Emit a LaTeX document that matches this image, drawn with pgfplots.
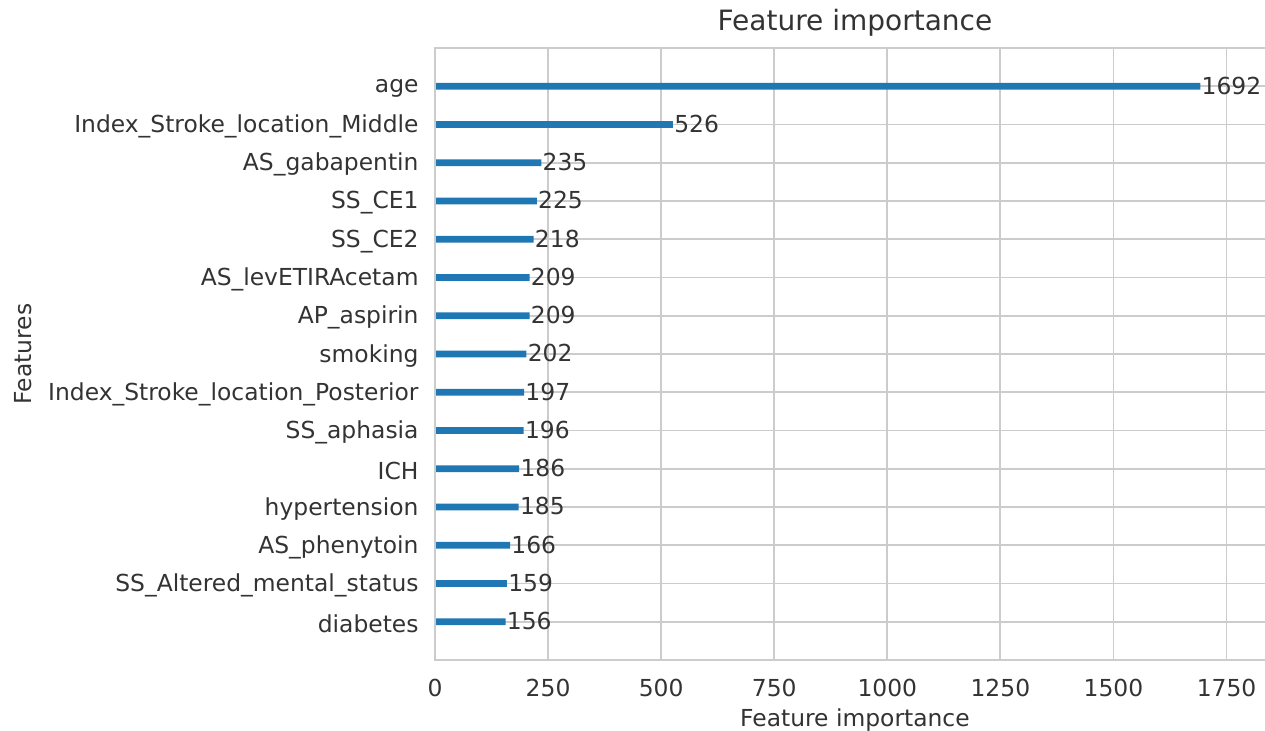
\documentclass[border=0pt]{standalone}
\usepackage{pgfplots}
\pgfplotsset{compat=1.18}
\usepackage{fontspec}
\setmainfont{DejaVu Sans}
\definecolor{barblue}{HTML}{1F77B4}
\definecolor{gridgray}{HTML}{CCCCCC}
\definecolor{txt}{HTML}{333333}
\newcommand\lbl{\fontsize{11.7}{13.5}\selectfont}
\begin{document}
\begin{tikzpicture}
\begin{axis}[
    at={(0,0)}, anchor=south west,
    scale only axis,
    width=415pt, height=306pt,
    clip=false,
    xbar, bar width=0.175,
    xmin=0, xmax=1835,
    ymin=-1, ymax=15,
    xtick={0,250,...,1750},
    ytick={0,...,14},
    yticklabels={diabetes,SS\_Altered\_mental\_status,AS\_phenytoin,hypertension,ICH,SS\_aphasia,Index\_Stroke\_location\_Posterior,smoking,AP\_aspirin,AS\_levETIRAcetam,SS\_CE2,SS\_CE1,AS\_gabapentin,Index\_Stroke\_location\_Middle,age},
    major tick length=0pt,
    grid=major,
    major grid style={color=gridgray, line width=0.9pt},
    axis line style={draw=none},
    /pgf/number format/assume math mode=true,
    /pgf/number format/1000 sep={},
    tick label style={font=\lbl, color=txt},
    yticklabel style={xshift=-4.7pt, yshift=-1pt},
    xticklabel style={yshift=-6pt},
    nodes near coords,
    every node near coord/.append style={font=\lbl, color=txt, anchor=west, inner xsep=0.5pt, yshift=0.3pt},
    title={Feature importance},
    title style={at={(axis description cs:0.506,1)}, anchor=base, yshift=3pt, font=\fontsize{14}{16}\selectfont, color=txt},
    xlabel={Feature importance},
    xlabel style={at={(axis description cs:0.506,0)}, anchor=base, yshift=-33pt, font=\lbl, color=txt},
]
\addplot[fill=barblue, draw=none] coordinates {
    (156,0) (159,1) (166,2) (185,3) (186,4) (196,5) (197,6) (202,7)
    (209,8) (209,9) (218,10) (225,11) (235,12) (526,13) (1692,14)
};
\draw[gridgray, line width=0.9pt] (rel axis cs:1,0) -- (rel axis cs:0,0) -- (rel axis cs:0,1) -- (rel axis cs:1,1);
\node[rotate=90, anchor=base, font=\lbl, color=txt] at ([xshift=-201.5pt]axis description cs:0,0.5) {Features};
\end{axis}
\pgfresetboundingbox
\path[use as bounding box] (-217.5pt,-35pt) rectangle (415pt,330pt);
\end{tikzpicture}
\end{document}
